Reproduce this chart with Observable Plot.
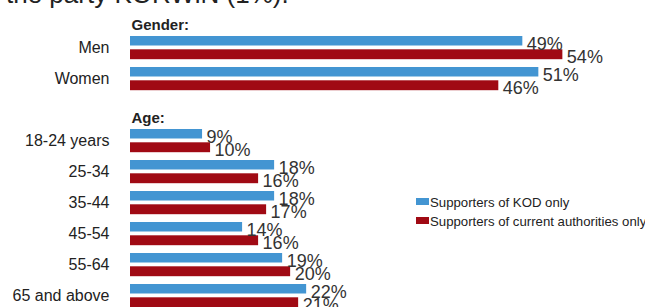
<!DOCTYPE html>
<html><head><meta charset="utf-8">
<script src="https://cdn.jsdelivr.net/npm/d3@7"></script>
<script src="https://cdn.jsdelivr.net/npm/@observablehq/plot@0.6"></script>
<style>
body{margin:0;background:#fff;font-family:"Liberation Sans",Arial,sans-serif;overflow:hidden}
#wrap{position:relative;width:645px;height:307px;overflow:hidden;background:#fff}
#title{position:relative;height:12px;overflow:hidden}
#title span{position:absolute;left:6px;top:-19px;font-size:26px;line-height:26px;color:#222;white-space:nowrap}
.lg{position:absolute;left:416px;font-size:13.2px;line-height:13px;color:#222;white-space:nowrap}
.lg i{position:absolute;left:0;width:13px;height:7px}
.lg span{position:absolute;left:14px;top:0}
</style>
</head><body>
<div id="wrap">
  <div id="title"><span>the party KORWiN (1%).</span></div>
  <div id="chart"></div>
  <div id="legend"></div>
</div>
<script>
const titleText = "the party KORWiN (1%).";
const categories = ["Men","Women","18-24 years","25-34","35-44","45-54","55-64","65 and above"];
const sections = ["Gender:","Gender:","Age:","Age:","Age:","Age:","Age:","Age:"];
const kodValues = [49,51,9,18,18,14,19,22];
const authValues = [54,46,10,16,17,16,20,21];
const seriesNames = ["Supporters of KOD only","Supporters of current authorities only"];
const seriesColors = ["#4395d2","#a00a14"];
const spacer = " ";

const data = categories.map((c,i)=>({cat:c, section:sections[i], kod:kodValues[i], auth:authValues[i]}));
const headers = data.filter((d,i)=>i===0 || sections[i]!==sections[i-1]);
const yDomain = [];
data.forEach((d,i)=>{ if(i>0 && sections[i]!==sections[i-1]) yDomain.push(spacer); yDomain.push(d.cat); });

const plot = Plot.plot({
  width:645, height:300,
  marginLeft:130, marginRight:34.6, marginTop:19.8, marginBottom:1.2,
  style:{fontFamily:'"Liberation Sans",Arial,sans-serif', color:"#222", background:"#fff"},
  x:{domain:[0,60], axis:null},
  y:{domain:yDomain, padding:0, axis:null},
  marks:[
    Plot.barX(data,{x:"kod", y:"cat", fill:seriesColors[0], insetTop:4, insetBottom:17.5}),
    Plot.barX(data,{x:"auth", y:"cat", fill:seriesColors[1], insetTop:17.3, insetBottom:3.8}),
    Plot.text(data,{x:"kod", y:"cat", text:d=>d.kod+"%", dx:4, dy:-4.1, textAnchor:"start", fontSize:18, fill:"#333"}),
    Plot.text(data,{x:"auth", y:"cat", text:d=>d.auth+"%", dx:4, dy:8.9, textAnchor:"start", fontSize:18, fill:"#333"}),
    Plot.axisY({ticks:categories, tickSize:0, tickPadding:21, fontSize:16, fill:"#222", label:null}),
    Plot.text(headers,{x:()=>0, y:"cat", text:"section", dx:1, dy:-23, textAnchor:"start", fontSize:15, fontWeight:"bold", fill:"#222"})
  ]
});
document.getElementById("chart").appendChild(plot);

const legend = document.getElementById("legend");
const tops = [195.7, 215];
seriesNames.forEach((n,i)=>{
  const row = document.createElement("div");
  row.className="lg"; row.style.top = tops[i]+"px";
  row.innerHTML = `<i style="background:${seriesColors[i]};top:${i?2.3:2.6}px"></i><span>${n}</span>`;
  legend.appendChild(row);
});
document.querySelector("#title span").textContent = titleText;
</script>
</body></html>
